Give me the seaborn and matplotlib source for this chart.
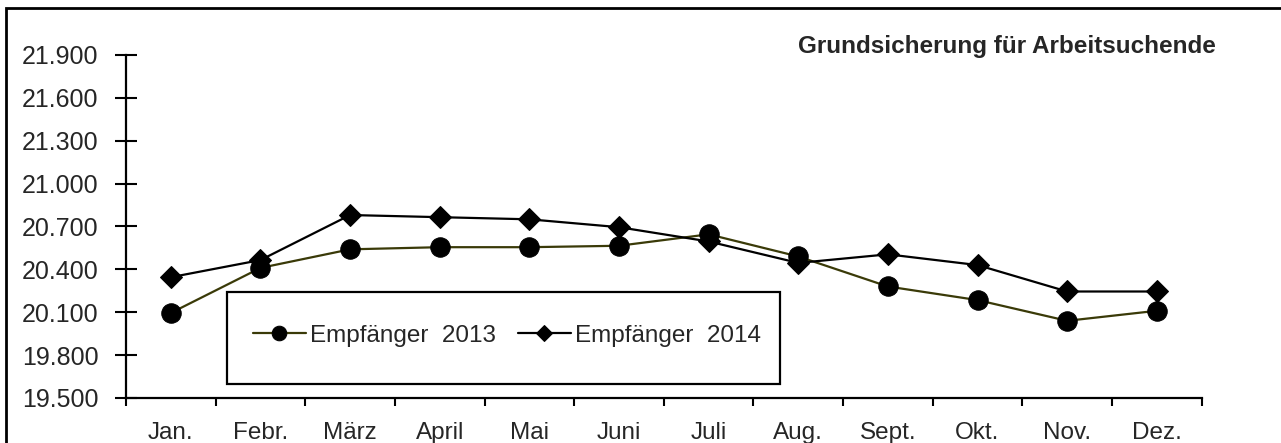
import matplotlib
matplotlib.use("Agg")
import matplotlib.pyplot as plt
import matplotlib.patches as mpatches
import numpy as np
import pandas as pd
import seaborn as sns

# Daten
monate = ["Jan.", "Febr.", "März", "April", "Mai", "Juni",
          "Juli", "Aug.", "Sept.", "Okt.", "Nov.", "Dez."]
empf_2013 = [20095, 20410, 20540, 20555, 20555, 20565,
             20645, 20490, 20280, 20185, 20040, 20110]
empf_2014 = [20345, 20465, 20780, 20765, 20750, 20695,
             20595, 20445, 20505, 20430, 20245, 20245]
y_ticks = [19500, 19800, 20100, 20400, 20700, 21000, 21300, 21600, 21900]

sns.set_theme(style="white")
plt.rcParams["font.family"] = ["Liberation Sans", "DejaVu Sans"]

df = pd.DataFrame({"monat": monate, "e2013": empf_2013, "e2014": empf_2014})
df["pos"] = np.arange(len(monate))

fig = plt.figure(figsize=(12.81, 4.43), dpi=100)
ax = fig.add_axes([0.0984, 0.1016, 0.8396, 0.7744])

sns.lineplot(data=df, x="pos", y="e2013", ax=ax, color="#3a3a08", lw=1.6,
             marker="o", markersize=14, markerfacecolor="black",
             markeredgecolor="black", label="Empfänger  2013", sort=False)
sns.lineplot(data=df, x="pos", y="e2014", ax=ax, color="black", lw=1.6,
             marker="D", markersize=11, markerfacecolor="black",
             markeredgecolor="black", label="Empfänger  2014", sort=False)

ax.set_xlim(-0.5, len(monate) - 0.5)
ax.set_ylim(y_ticks[0], y_ticks[-1])
ax.set_yticks(y_ticks)
ax.set_yticklabels([f"{v/1000:.3f}" for v in y_ticks], fontsize=18)
ax.set_xticks(df["pos"])
ax.set_xticklabels(monate, fontsize=17.5)
ax.set_xticks(np.arange(-0.5, len(monate)), minor=True)
ax.tick_params(axis="x", which="major", length=0, pad=17)
ax.tick_params(axis="x", which="minor", direction="out", length=6,
               width=1.5, color="black", bottom=True)
ax.tick_params(axis="y", direction="inout", length=16, width=1.5,
               color="black", left=True, pad=12)
ax.set_xlabel("")
ax.set_ylabel("")

for side in ["top", "right"]:
    ax.spines[side].set_visible(False)
for side in ["left", "bottom"]:
    ax.spines[side].set_color("black")
    ax.spines[side].set_linewidth(1.6)

# Legende mit eigenem Rahmen
leg = ax.legend(loc="center", bbox_to_anchor=(0.354, 0.181), ncol=2,
                frameon=False, fontsize=17.5, handlelength=2.2,
                columnspacing=0.9, handletextpad=0.15, markerscale=0.75)
box = mpatches.Rectangle((0.094, 0.041), 0.514, 0.268, transform=ax.transAxes,
                         fill=False, edgecolor="black", lw=1.6, zorder=1)
ax.add_patch(box)

fig.text(0.949, 0.895, "Grundsicherung für Arbeitsuchende", ha="right",
         va="center", fontsize=17.5, fontweight="bold")

# äußerer Rahmen
frame = mpatches.Rectangle((0.005, -0.01), 1.0, 0.992, transform=fig.transFigure,
                           fill=False, edgecolor="black", lw=2.0)
fig.patches.append(frame)

fig.savefig("out.png", dpi=100)
